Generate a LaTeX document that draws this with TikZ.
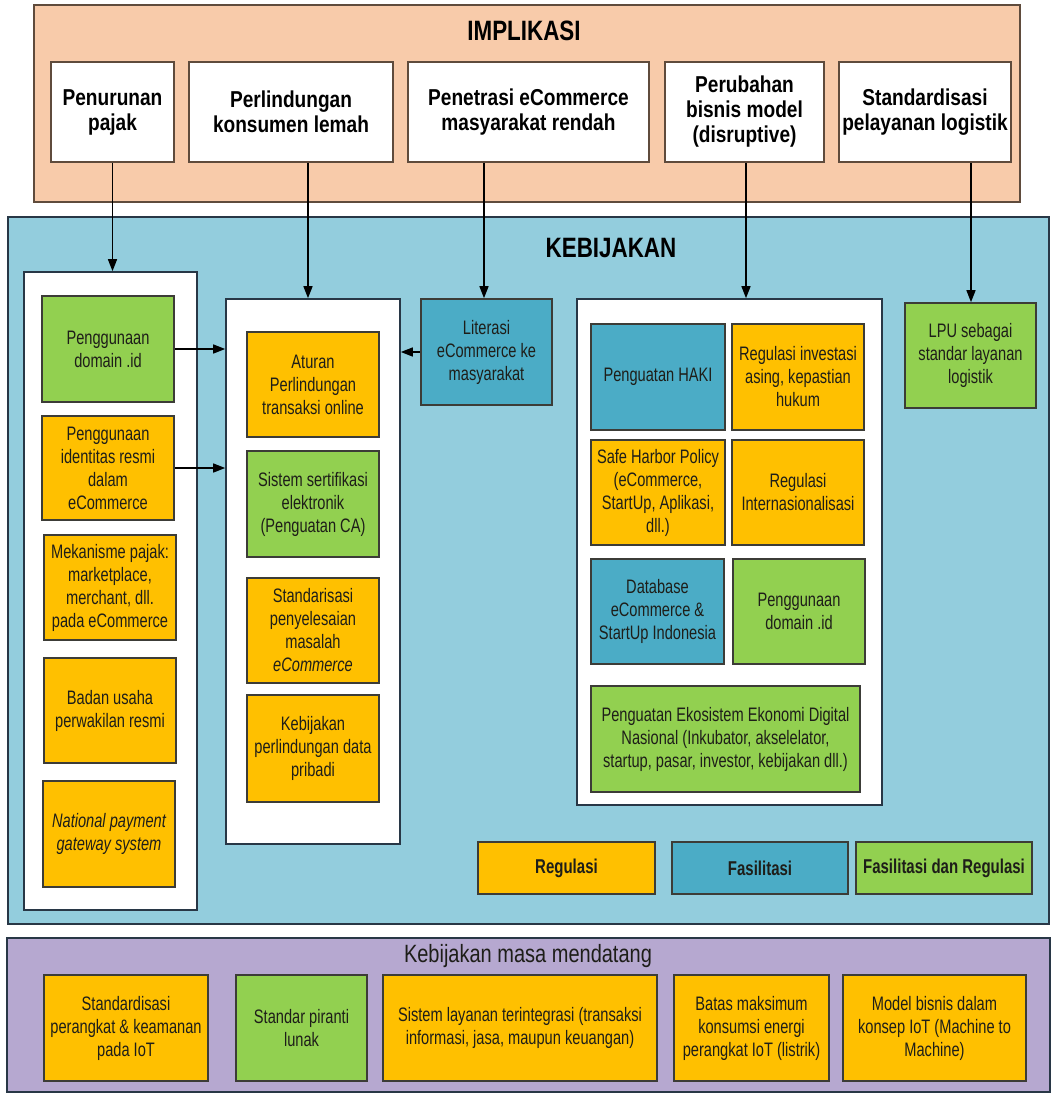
\documentclass[tikz,border=0pt]{standalone}
\usepackage{fontspec}
\setmainfont{Liberation Sans}
\newfontfamily\narf[FakeStretch=0.75]{Liberation Sans}
\newfontfamily\topf[FakeStretch=0.83]{Liberation Sans}
\newfontfamily\titf[FakeStretch=0.8]{Liberation Sans}
\usetikzlibrary{arrows.meta}
\definecolor{peach}{RGB}{248,203,170}
\definecolor{kebblue}{RGB}{147,205,221}
\definecolor{blueF}{RGB}{75,172,198}
\definecolor{orangeF}{RGB}{255,192,0}
\definecolor{greenF}{RGB}{146,208,80}
\definecolor{purpleF}{RGB}{182,168,208}
\definecolor{boxline}{RGB}{60,60,55}
\definecolor{contline}{RGB}{40,55,70}
\definecolor{implline}{RGB}{95,75,60}
\definecolor{textc}{RGB}{30,30,25}
\tikzset{
  base/.style={draw=boxline, line width=1.6pt, inner sep=0pt, align=center, text=textc},
  org/.style={base, fill=orangeF, font=\narf\fontsize{19.5}{23}\selectfont},
  grn/.style={base, fill=greenF, font=\narf\fontsize{19.5}{23}\selectfont},
  blu/.style={base, fill=blueF, font=\narf\fontsize{19.5}{23}\selectfont},
  wht/.style={base, draw=implline, fill=white, text=black, font=\topf\bfseries\fontsize{23}{25}\selectfont},
  legorg/.style={org, font=\narf\bfseries\fontsize{20}{22}\selectfont},
  legblu/.style={blu, font=\narf\bfseries\fontsize{20}{22}\selectfont},
  leggrn/.style={grn, font=\narf\bfseries\fontsize{20}{22}\selectfont},
  cont/.style={draw=contline, line width=1.6pt, fill=white, inner sep=0pt},
  implframe/.style={draw=implline, line width=1.6pt, fill=peach, inner sep=0pt},
  kebframe/.style={draw=contline, line width=1.6pt, fill=kebblue, inner sep=0pt},
  purframe/.style={draw=contline, line width=1.6pt, fill=purpleF, inner sep=0pt},
  bigtitle/.style={inner sep=0pt, text=black, font=\titf\bfseries\fontsize{28}{32}\selectfont},
  subtitle/.style={inner sep=0pt, text=textc, font=\titf\fontsize{25}{28}\selectfont},
  arr/.style={-{Triangle[length=12pt,width=9pt]}, line width=1.4pt, draw=black},
}
\newcommand{\bx}[7]{\node[#2, minimum width={(#5-#3)*1pt}, minimum height={(#6-#4)*1pt}] (#1) at ({(#3+#5)/2},{(#4+#6)/2}) {#7};}
\begin{document}
\begin{tikzpicture}[x=1pt,y=-1pt]
\useasboundingbox[fill=white] (0,0) rectangle (1053,1093);
% frames
\bx{impl}{implframe}{34}{5}{1020}{202}{}
\bx{keb}{kebframe}{8}{217}{1049}{924}{}
\bx{fut}{purframe}{7}{938}{1050}{1092}{}
\node[bigtitle] (implT) at (524,31) {IMPLIKASI};
\node[bigtitle] (kebT) at (611,248) {KEBIJAKAN};
\node[subtitle] (futT) at (528,956) {Kebijakan masa mendatang};
% top boxes
\bx{t1}{wht}{51}{62}{174}{162}{Penurunan\\pajak}
\bx{t2}{wht}{189}{62}{393}{162}{Perlindungan\\konsumen lemah}
\bx{t3}{wht}{408}{62}{649}{162}{Penetrasi eCommerce\\masyarakat rendah}
\bx{t4}{wht}{665}{62}{824}{162}{Perubahan\\bisnis model\\(disruptive)}
\bx{t5}{wht}{839}{62}{1011}{162}{Standardisasi\\pelayanan logistik}
% containers
\bx{lc}{cont}{24}{272}{197}{910}{}
\bx{mc}{cont}{226}{299}{400}{844}{}
\bx{rc}{cont}{577}{299}{882}{805}{}
% left column
\bx{d1}{grn}{42}{296}{174}{402}{Penggunaan\\domain .id}
\bx{d2}{org}{42}{416}{174}{520}{Penggunaan\\identitas resmi\\dalam\\eCommerce}
\bx{d3}{org}{44}{535}{176}{640}{Mekanisme pajak:\\marketplace,\\merchant, dll.\\pada eCommerce}
\bx{d4}{org}{44}{658}{176}{763}{Badan usaha\\perwakilan resmi}
\bx{d5}{org}{43}{781}{175}{887}{\itshape National payment\\\itshape gateway system}
% middle column
\bx{m1}{org}{247}{332}{379}{437}{Aturan\\Perlindungan\\transaksi online}
\bx{m2}{grn}{247}{451}{379}{557}{Sistem sertifikasi\\elektronik\\(Penguatan CA)}
\bx{m3}{org}{247}{578}{379}{683}{Standarisasi\\penyelesaian\\masalah\\\textit{eCommerce}}
\bx{m4}{org}{247}{695}{379}{802}{Kebijakan\\perlindungan data\\pribadi}
% literasi
\bx{lit}{blu}{421}{299}{552}{405}{Literasi\\eCommerce ke\\masyarakat}
% right column
\bx{r1}{blu}{591}{324}{725}{430}{Penguatan HAKI}
\bx{r2}{org}{732}{324}{864}{430}{Regulasi investasi\\asing, kepastian\\hukum}
\bx{r3}{org}{591}{440}{725}{545}{Safe Harbor Policy\\(eCommerce,\\StartUp, Aplikasi,\\dll.)}
\bx{r4}{org}{732}{440}{864}{545}{Regulasi\\Internasionalisasi}
\bx{r5}{blu}{591}{559}{724}{664}{Database\\eCommerce \&\\StartUp Indonesia}
\bx{r6}{grn}{733}{559}{865}{664}{Penggunaan\\domain .id}
\bx{r7}{grn}{591}{686}{860}{792}{Penguatan Ekosistem Ekonomi Digital\\Nasional (Inkubator, akselelator,\\startup, pasar, investor, kebijakan dll.)}
% LPU
\bx{lpu}{grn}{905}{303}{1036}{408}{LPU sebagai\\standar layanan\\logistik}
% legend
\bx{lg1}{legorg}{478}{842}{655}{894}{Regulasi}
\bx{lg2}{legblu}{672}{842}{848}{894}{Fasilitasi}
\bx{lg3}{leggrn}{856}{842}{1032}{894}{Fasilitasi dan Regulasi}
% future
\bx{b1}{org}{44}{975}{208}{1081}{Standardisasi\\perangkat \& keamanan\\pada IoT}
\bx{b2}{grn}{236}{975}{367}{1081}{Standar piranti\\lunak}
\bx{b3}{org}{383}{975}{657}{1081}{Sistem layanan terintegrasi (transaksi\\informasi, jasa, maupun keuangan)}
\bx{b4}{org}{674}{975}{829}{1081}{Batas maksimum\\konsumsi energi\\perangkat IoT (listrik)}
\bx{b5}{org}{843}{975}{1026}{1081}{Model bisnis dalam\\konsep IoT (Machine to\\Machine)}
% connectors
\coordinate (c2) at (308,0);
\coordinate (c3) at (484,0);
\coordinate (c4) at (746,0);
\coordinate (c5) at (971,0);
\draw[arr] (t1.south) -- (t1.south |- lc.north);
\draw[arr] (t2.south -| c2) -- (mc.north -| c2);
\draw[arr] (t3.south -| c3) -- (lit.north -| c3);
\draw[arr] (t4.south -| c4) -- (rc.north -| c4);
\draw[arr] (t5.south -| c5) -- (lpu.north -| c5);
\draw[arr] (d1.east) -- (d1.east -| mc.west);
\draw[arr] (d2.east) -- (d2.east -| mc.west);
\draw[arr] (lit.west) -- (lit.west -| mc.east);
\end{tikzpicture}
\end{document}
